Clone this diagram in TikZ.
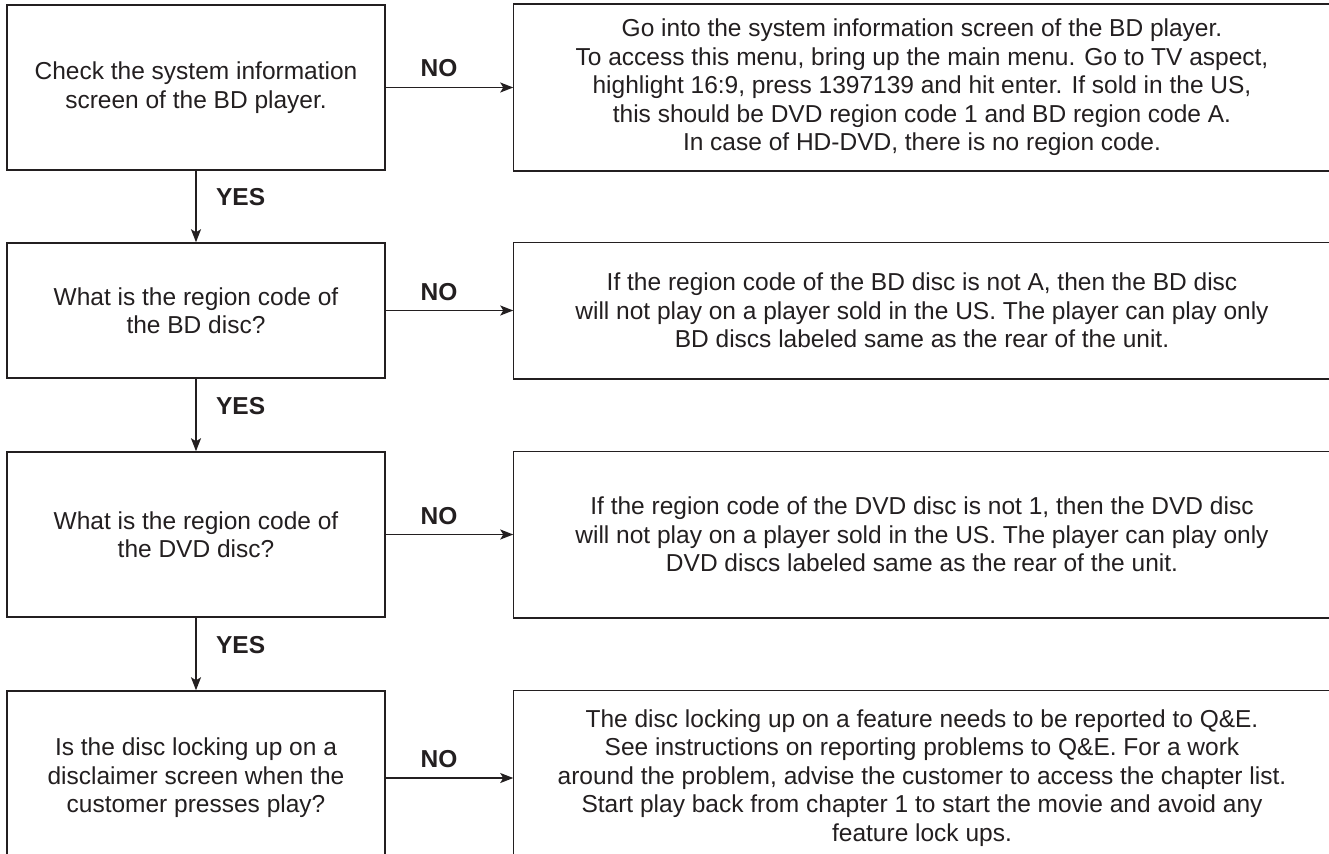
\documentclass[tikz,border=0pt]{standalone}
\usepackage{fontspec}
\setmainfont{Liberation Sans}
\usetikzlibrary{arrows.meta}
\definecolor{inkcolor}{HTML}{231f20}

\begin{document}
\begin{tikzpicture}[x=1bp, y=-1bp, >={Stealth[length=13bp,width=10bp,inset=3bp]},
  line width=1.5bp, color=inkcolor,
  every node/.style={align=center, font=\fontsize{24.5bp}{28.5bp}\selectfont},
  checkbox/.style={draw=inkcolor, rectangle, minimum width=378bp, inner sep=0pt},
  notebox/.style={rectangle, minimum width=816bp, inner sep=0pt},
  flowlabel/.style={font=\fontsize{24.5bp}{28.5bp}\selectfont\bfseries}]

%%=== COORDINATE PLAN (bp, y down) ===================================
%%  Page 1329 x 853, boxes run off the right and bottom edges
%%  Check boxes: x 7..385, centre x=196
%%  Note boxes: left edge x=514, text centre x=922
%%  Row centres: R1=87.5  R2=310.5  R3=534.5  R4=778
%%====================================================================

%% --- Page and clip -------------------------------------------------
\fill[white] (0,0) rectangle (1329,853);
\useasboundingbox (0,0) rectangle (1329,853);
\clip (0,0) rectangle (1329,853);

%% --- Check boxes (left column) -------------------------------------
\node[checkbox, minimum height=165bp] (q1) at (196,87.5)
  {Check the system information\\screen of the BD player.};
\node[checkbox, minimum height=135bp] (q2) at (196,310.5)
  {What is the region code of\\the BD disc?};
\node[checkbox, minimum height=165bp] (q3) at (196,534.5)
  {What is the region code of\\the DVD disc?};
\node[checkbox, minimum height=174bp] (q4) at (196,778)
  {Is the disc locking up on a\\disclaimer screen when the\\customer presses play?};

%% --- Note boxes (right column) -------------------------------------
\node[notebox, minimum height=165bp] (a1) at (922,87.5)
  {Go into the system information screen of the BD player.\\
   To access this menu, bring up the main menu. Go to TV aspect,\\
   highlight 16:9, press 1397139 and hit enter. If sold in the US,\\
   this should be DVD region code 1 and BD region code A.\\
   In case of HD-DVD, there is no region code.};
\node[notebox, minimum height=135bp] (a2) at (922,310.5)
  {If the region code of the BD disc is not A, then the BD disc\\
   will not play on a player sold in the US. The player can play only\\
   BD discs labeled same as the rear of the unit.};
\node[notebox, minimum height=165bp] (a3) at (922,534.5)
  {If the region code of the DVD disc is not 1, then the DVD disc\\
   will not play on a player sold in the US. The player can play only\\
   DVD discs labeled same as the rear of the unit.};
\node[notebox, minimum height=174bp] (a4) at (922,778)
  {The disc locking up on a feature needs to be reported to Q\&E.\\
   See instructions on reporting problems to Q\&E. For a work\\
   around the problem, advise the customer to access the chapter list.\\
   Start play back from chapter 1 to start the movie and avoid any\\
   feature lock ups.};

%% note frames run past the clip on the right
\foreach \n in {a1,a2,a3,a4}
  \draw (\n.north west) rectangle ([xshift=60bp]\n.south east);

%% --- NO arrows -----------------------------------------------------
\foreach \i in {1,...,4}
  \draw[->] (q\i.east) -- (a\i.west);
\node[flowlabel] (no1) at (439,68)  {NO};
\node[flowlabel] (no2) at (439,292) {NO};
\node[flowlabel] (no3) at (439,516) {NO};
\node[flowlabel] (no4) at (439,759) {NO};

%% --- YES arrows ----------------------------------------------------
\draw[->] (q1.south) -- (q2.north);
\draw[->] (q2.south) -- (q3.north);
\draw[->] (q3.south) -- (q4.north);
\node[flowlabel, anchor=west] (yes1) at (212,197) {YES};
\node[flowlabel, anchor=west] (yes2) at (212,406) {YES};
\node[flowlabel, anchor=west] (yes3) at (212,645) {YES};

\end{tikzpicture}
\end{document}
